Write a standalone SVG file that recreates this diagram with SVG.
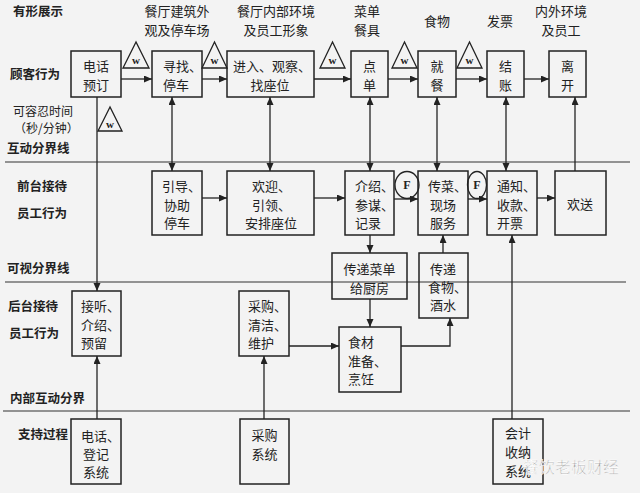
<svg xmlns="http://www.w3.org/2000/svg" width="640" height="493" viewBox="0 0 640 493">
<defs>
<marker id="ah" markerWidth="9" markerHeight="8" refX="8" refY="3.5" orient="auto-start-reverse" markerUnits="userSpaceOnUse">
<path d="M0,0 L8,3.5 L0,7 z" fill="#222"/>
</marker>
<style>
.bx{fill:none;stroke:#222;stroke-width:1.5}
.ln{fill:none;stroke:#222;stroke-width:1.3}
.sep{fill:none;stroke:#333;stroke-width:1.2}
.t{font-family:"Noto Sans CJK SC","Noto Sans CJK JP",sans-serif;font-size:13px;fill:#222;dominant-baseline:central}
.c{text-anchor:middle}
.lb{font-family:"Noto Sans CJK SC","Noto Sans CJK JP",sans-serif;font-size:12.5px;font-weight:bold;fill:#222;dominant-baseline:central}
.tri{fill:none;stroke:#222;stroke-width:1.3}
.w{font-family:"Liberation Serif",serif;font-size:11px;font-weight:bold;fill:#222;text-anchor:middle;dominant-baseline:central}
.f{font-family:"Liberation Serif",serif;font-size:12px;font-weight:bold;fill:#222;text-anchor:middle;dominant-baseline:central}
</style>
</defs>
<rect x="0" y="0" width="640" height="493" fill="#f3f3f3"/>

<g id="labels">
<text class="lb" x="13" y="10">有形展示</text>
<text class="lb" x="10" y="73">顾客行为</text>
<text class="t" x="13" y="110" style="font-size:12px">可容忍时间</text>
<text class="t" x="14" y="127" style="font-size:12px">（秒/分钟）</text>
<text class="lb" x="7" y="147">互动分界线</text>
<text class="lb" x="17" y="185">前台接待</text>
<text class="lb" x="17" y="212">员工行为</text>
<text class="lb" x="7" y="267">可视分界线</text>
<text class="lb" x="8" y="305">后台接待</text>
<text class="lb" x="9" y="332">员工行为</text>
<text class="lb" x="10" y="397">内部互动分界</text>
<text class="lb" x="18" y="433">支持过程</text>
<text class="t c" x="177" y="10">餐厅建筑外</text>
<text class="t c" x="177" y="29">观及停车场</text>
<text class="t c" x="276" y="10">餐厅内部环境</text>
<text class="t c" x="276" y="29">及员工形象</text>
<text class="t c" x="367" y="10">菜单</text>
<text class="t c" x="367" y="29">餐具</text>
<text class="t c" x="437" y="20">食物</text>
<text class="t c" x="500" y="20">发票</text>
<text class="t c" x="561" y="10">内外环境</text>
<text class="t c" x="561" y="29">及员工</text>
</g>

<g id="separators">
<line class="sep" x1="5" y1="162" x2="630" y2="162"/>
<line class="sep" x1="5" y1="282" x2="626" y2="282"/>
<line class="sep" x1="3" y1="411" x2="630" y2="411"/>
</g>

<g id="connectors">
<line class="ln" x1="121" y1="79" x2="152" y2="79" marker-end="url(#ah)"/>
<line class="ln" x1="202" y1="79" x2="227" y2="79" marker-end="url(#ah)"/>
<line class="ln" x1="314" y1="79" x2="351" y2="79" marker-end="url(#ah)"/>
<line class="ln" x1="388" y1="79" x2="418" y2="79" marker-end="url(#ah)"/>
<line class="ln" x1="456" y1="79" x2="487" y2="79" marker-end="url(#ah)"/>
<line class="ln" x1="524" y1="79" x2="549" y2="79" marker-end="url(#ah)"/>
<line class="ln" x1="97" y1="97" x2="97" y2="291" marker-end="url(#ah)"/>
<line class="ln" x1="172" y1="97" x2="172" y2="171" marker-start="url(#ah)" marker-end="url(#ah)"/>
<line class="ln" x1="270" y1="97" x2="270" y2="171" marker-start="url(#ah)" marker-end="url(#ah)"/>
<line class="ln" x1="370" y1="97" x2="370" y2="171" marker-start="url(#ah)" marker-end="url(#ah)"/>
<line class="ln" x1="437" y1="97" x2="437" y2="171" marker-start="url(#ah)" marker-end="url(#ah)"/>
<line class="ln" x1="506" y1="97" x2="506" y2="171" marker-start="url(#ah)" marker-end="url(#ah)"/>
<line class="ln" x1="575" y1="171" x2="575" y2="97" marker-end="url(#ah)"/>
<line class="ln" x1="202" y1="198" x2="227" y2="198" marker-end="url(#ah)"/>
<line class="ln" x1="314" y1="198" x2="345" y2="198" marker-end="url(#ah)"/>
<line class="ln" x1="394" y1="199" x2="418" y2="199" marker-end="url(#ah)"/>
<line class="ln" x1="468" y1="199" x2="487" y2="199" marker-end="url(#ah)"/>
<line class="ln" x1="537" y1="198" x2="555" y2="198" marker-end="url(#ah)"/>
<line class="ln" x1="370" y1="235" x2="370" y2="253" marker-end="url(#ah)"/>
<line class="ln" x1="443" y1="253" x2="443" y2="235" marker-end="url(#ah)"/>
<line class="ln" x1="370" y1="299" x2="370" y2="327" marker-end="url(#ah)"/>
<polyline class="ln" points="401,346 450,346 450,318" marker-end="url(#ah)"/>
<line class="ln" x1="289" y1="346" x2="339" y2="346" marker-end="url(#ah)"/>
<line class="ln" x1="97" y1="419" x2="97" y2="356" marker-end="url(#ah)"/>
<line class="ln" x1="264" y1="419" x2="264" y2="356" marker-end="url(#ah)"/>
<line class="ln" x1="512" y1="419" x2="512" y2="235" marker-end="url(#ah)"/>
</g>

<g id="waits">
<polygon class="tri" points="136,42 123,68 149,68"/><text class="w" x="136" y="60">w</text>
<polygon class="tri" points="214.5,42 202,68 227,68"/><text class="w" x="214.5" y="60">w</text>
<polygon class="tri" points="332.5,42 320,68 345,68"/><text class="w" x="332.5" y="60">w</text>
<polygon class="tri" points="404.5,42 392,68 417,68"/><text class="w" x="404.5" y="60">w</text>
<polygon class="tri" points="469.5,42 457,68 482,68"/><text class="w" x="469.5" y="60">w</text>
<polygon class="tri" points="110,107 98,131 122,131"/><text class="w" x="110" y="124">w</text>
<ellipse class="tri" cx="407" cy="185" rx="12" ry="13.5"/><text class="f" x="407" y="185">F</text>
<ellipse class="tri" cx="477" cy="185" rx="9.5" ry="13.5"/><text class="f" x="477" y="185">F</text>
</g>

<g id="n-dianhuayuding"><rect class="bx" x="71" y="51" width="50" height="46"/><text class="t c" x="96" y="65">电话</text><text class="t c" x="96" y="84">预订</text></g>
<g id="n-xunzhao"><rect class="bx" x="152" y="51" width="50" height="46"/><text class="t" x="163" y="65">寻找、</text><text class="t" x="163" y="84">停车</text></g>
<g id="n-jinru"><rect class="bx" x="227" y="51" width="87" height="46"/><text class="t c" x="272" y="65">进入、观察、</text><text class="t c" x="270" y="84">找座位</text></g>
<g id="n-diandan"><rect class="bx" x="351" y="51" width="37" height="46"/><text class="t c" x="369.5" y="65">点</text><text class="t c" x="369.5" y="84">单</text></g>
<g id="n-jiucan"><rect class="bx" x="418" y="51" width="38" height="46"/><text class="t c" x="437" y="65">就</text><text class="t c" x="437" y="84">餐</text></g>
<g id="n-jiezhang"><rect class="bx" x="487" y="51" width="37" height="46"/><text class="t c" x="505.5" y="65">结</text><text class="t c" x="505.5" y="84">账</text></g>
<g id="n-likai"><rect class="bx" x="549" y="51" width="37" height="46"/><text class="t c" x="567.5" y="65">离</text><text class="t c" x="567.5" y="84">开</text></g>

<g id="n-yindao"><rect class="bx" x="152" y="171" width="50" height="64"/><text class="t" x="162" y="185">引导、</text><text class="t c" x="177" y="204">协助</text><text class="t c" x="177" y="222">停车</text></g>
<g id="n-huanying"><rect class="bx" x="227" y="171" width="87" height="64"/><text class="t" x="252" y="185">欢迎、</text><text class="t" x="252" y="204">引领、</text><text class="t c" x="271" y="222">安排座位</text></g>
<g id="n-jieshao"><rect class="bx" x="345" y="171" width="49" height="64"/><text class="t" x="355" y="185">介绍、</text><text class="t" x="355" y="204">参谋、</text><text class="t" x="355" y="222">记录</text></g>
<g id="n-chuancai"><rect class="bx" x="418" y="171" width="50" height="64"/><text class="t" x="428" y="185">传菜、</text><text class="t c" x="443" y="204">现场</text><text class="t c" x="443" y="222">服务</text></g>
<g id="n-tongzhi"><rect class="bx" x="487" y="171" width="50" height="64"/><text class="t" x="497" y="185">通知、</text><text class="t" x="497" y="204">收款、</text><text class="t" x="497" y="222">开票</text></g>
<g id="n-huansong"><rect class="bx" x="555" y="171" width="51" height="64"/><text class="t c" x="580" y="203">欢送</text></g>

<g id="n-chuandicaidan"><rect class="bx" x="332" y="253" width="75" height="46"/><text class="t c" x="369.5" y="268">传递菜单</text><text class="t c" x="369.5" y="287">给厨房</text></g>
<g id="n-chuandishiwu"><rect class="bx" x="419" y="253" width="49" height="65"/><text class="t c" x="443" y="268">传递</text><text class="t" x="428" y="286">食物、</text><text class="t c" x="443" y="304">酒水</text></g>
<g id="n-jieting"><rect class="bx" x="72" y="291" width="49" height="65"/><text class="t" x="81" y="305">接听、</text><text class="t" x="81" y="324">介绍、</text><text class="t" x="81" y="342">预留</text></g>
<g id="n-caigou"><rect class="bx" x="239" y="291" width="50" height="65"/><text class="t" x="248" y="305">采购、</text><text class="t" x="248" y="324">清洁、</text><text class="t" x="248" y="342">维护</text></g>
<g id="n-shicai"><rect class="bx" x="339" y="327" width="62" height="65"/><text class="t" x="348" y="341">食材</text><text class="t" x="348" y="360">准备、</text><text class="t" x="348" y="378">烹饪</text></g>

<g id="n-dianhuadengji"><rect class="bx" x="71" y="419" width="50" height="65"/><text class="t" x="81" y="435">电话、</text><text class="t c" x="96" y="453">登记</text><text class="t c" x="96" y="471">系统</text></g>
<g id="n-caigouxitong"><rect class="bx" x="240" y="419" width="49" height="65"/><text class="t c" x="264.5" y="434">采购</text><text class="t c" x="264.5" y="453">系统</text></g>
<g id="n-kuaiji"><rect class="bx" x="493" y="419" width="50" height="65"/><text class="t c" x="518" y="432">会计</text><text class="t c" x="518" y="451">收纳</text><text class="t c" x="518" y="470">系统</text></g>

<g id="watermark">
<text x="523" y="466" style="font-family:'Noto Sans CJK SC',sans-serif;font-size:16px;fill:#999;stroke:#fff;stroke-width:0.6;dominant-baseline:central">餐饮老板财经</text>
</g>
</svg>
